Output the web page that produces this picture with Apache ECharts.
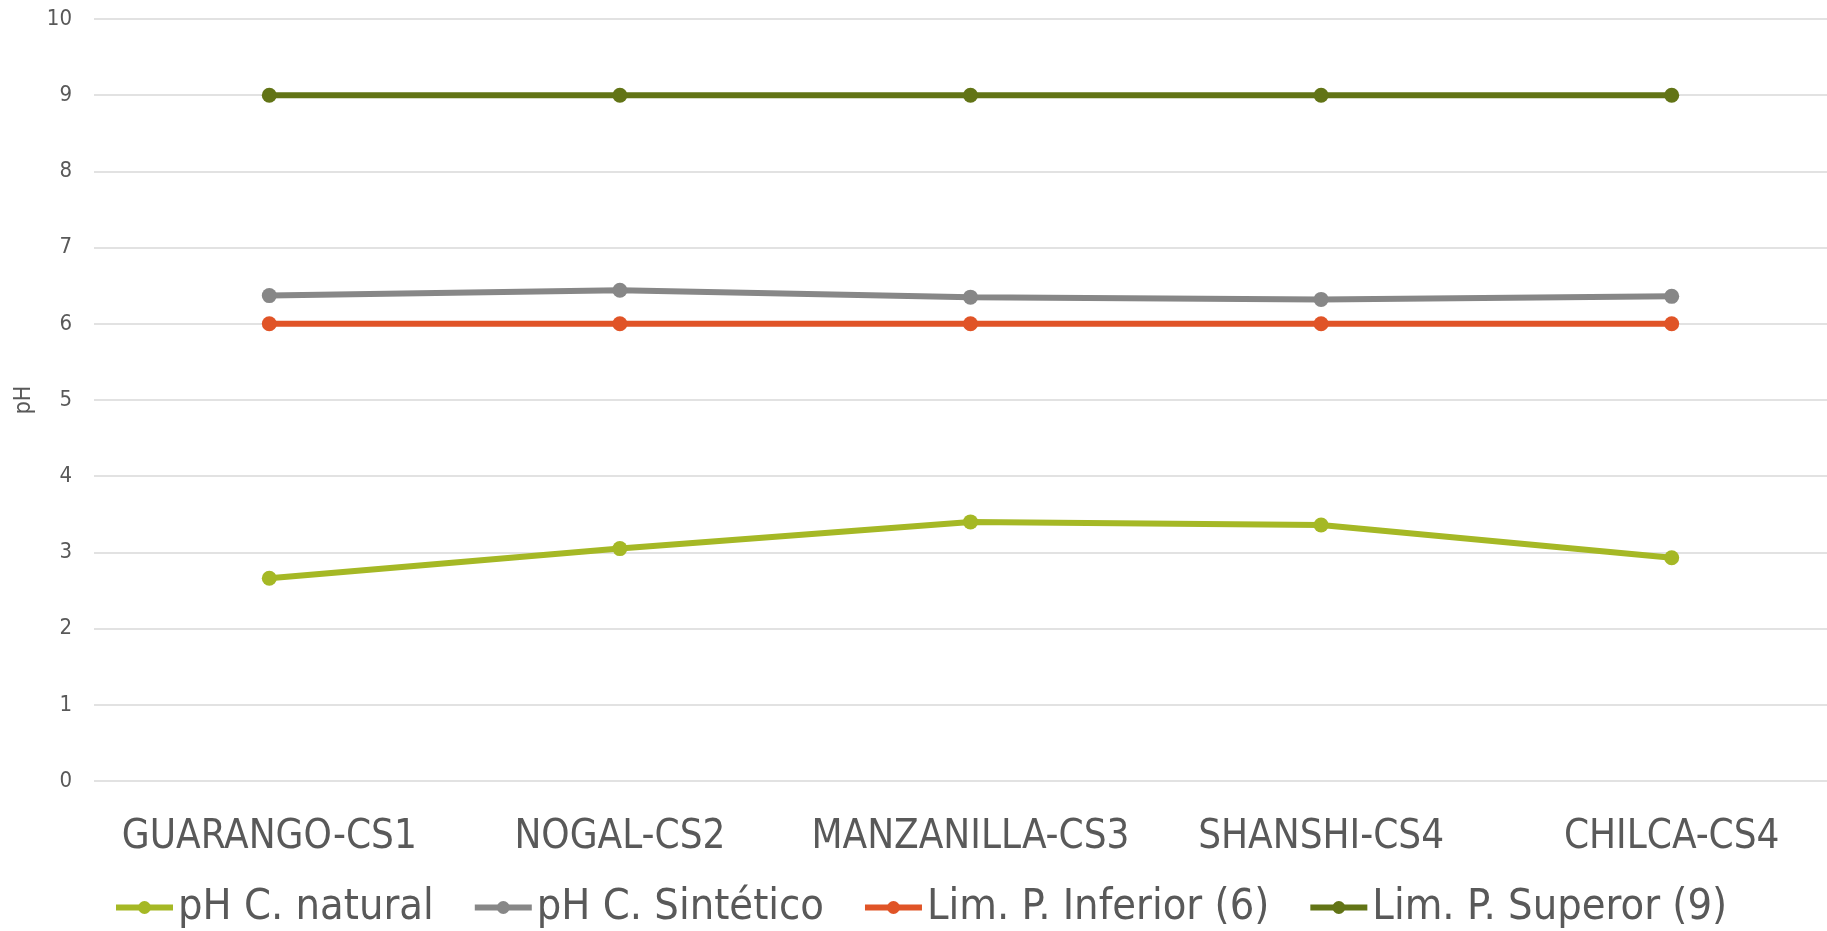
<!DOCTYPE html>
<html>
<head>
<meta charset="utf-8">
<title>pH</title>
<script src="https://cdn.jsdelivr.net/npm/echarts@6/dist/echarts.min.js"></script>
<style>
  html, body { margin: 0; padding: 0; background: #ffffff; overflow: hidden; }
  #chart { width: 1847px; height: 931px; }
</style>
</head>
<body>
<div id="chart"></div>
<script>
// Sampling sites
const categories = ['GUARANGO-CS1', 'NOGAL-CS2', 'MANZANILLA-CS3', 'SHANSHI-CS4', 'CHILCA-CS4'];

// pH readings per site
const phNatural = [2.66, 3.05, 3.40, 3.36, 2.93];
const phSintetico = [6.37, 6.44, 6.35, 6.32, 6.36];
// Permissible limits
const limInferior = [6, 6, 6, 6, 6];
const limSuperior = [9, 9, 9, 9, 9];

const seriesNames = ['pH C. natural', 'pH C. Sintético', 'Lim. P. Inferior (6)', 'Lim. P. Superor (9)'];
const seriesColors = ['#a5b825', '#878787', '#e05427', '#627416'];
const seriesData = [phNatural, phSintetico, limInferior, limSuperior];

const FONT = '"DejaVu Sans Condensed", "Liberation Sans Narrow", "Open Sans", sans-serif';
const TEXT = '#595959';

const chart = echarts.init(document.getElementById('chart'));
chart.setOption({
  animation: false,
  backgroundColor: '#ffffff',
  textStyle: { fontFamily: FONT, color: TEXT },
  grid: { left: 94, top: 19, right: 0, bottom: 150, containLabel: false },
  xAxis: {
    type: 'category',
    data: categories,
    boundaryGap: true,
    axisLine: { show: false },
    axisTick: { show: false },
    axisLabel: { color: TEXT, fontFamily: FONT, fontSize: 40, margin: 37, interval: 0 }
  },
  yAxis: {
    type: 'value',
    min: 0, max: 10, interval: 1,
    name: 'pH',
    nameLocation: 'middle',
    nameGap: 55,
    nameRotate: 90,
    nameTextStyle: { color: TEXT, fontFamily: FONT, fontSize: 23 },
    axisLine: { show: false },
    axisTick: { show: false },
    axisLabel: { color: TEXT, fontFamily: FONT, fontSize: 22, margin: 22 },
    splitLine: { lineStyle: { color: '#d9d9d9', width: 1.5 } }
  },
  legend: {
    left: 108,
    top: 881,
    itemWidth: 57,
    itemHeight: 16,
    itemGap: 38,
    lineStyle: { width: 6 },
    textStyle: { color: TEXT, fontFamily: FONT, fontSize: 43 },
    data: seriesNames
  },
  series: seriesNames.map((name, i) => ({
    name: name,
    type: 'line',
    data: seriesData[i],
    symbol: 'circle',
    symbolSize: 15,
    itemStyle: { color: seriesColors[i] },
    lineStyle: { color: seriesColors[i], width: 6 },
    z: 2 + (seriesNames.length - i)
  }))
});
</script>
</body>
</html>
